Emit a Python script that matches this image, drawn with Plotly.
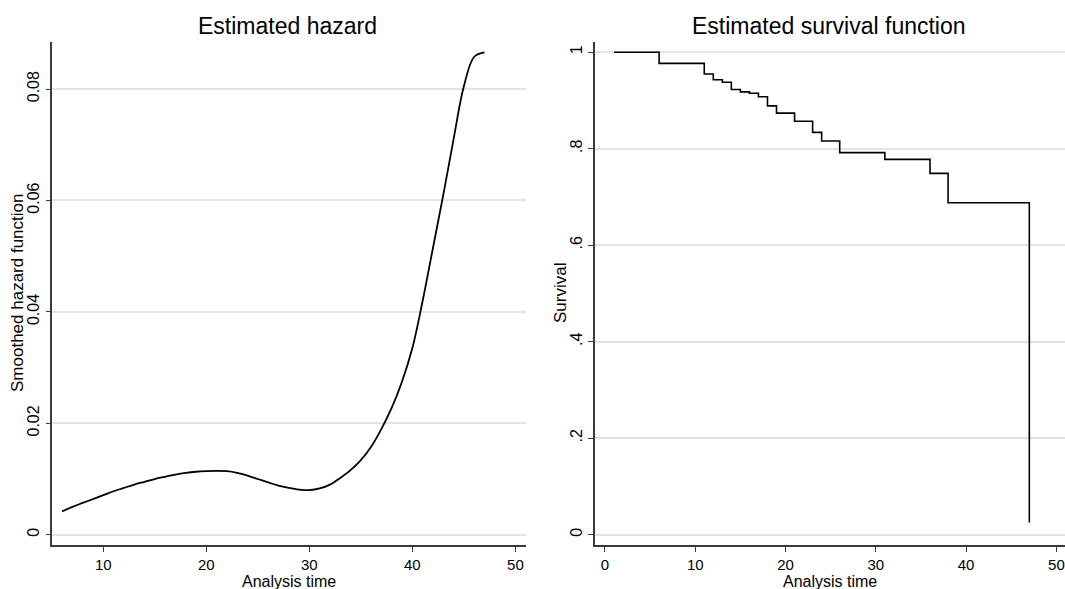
import plotly.graph_objects as go

# Smoothed hazard (left panel)
hazard_time = [6, 7, 8, 9, 10, 11, 12, 13, 14, 15, 16, 17, 18, 19, 20, 21, 22, 23, 24, 25, 26,
               27, 28, 29, 30, 31, 32, 33, 34, 35, 36, 37, 38, 39, 40, 41, 42, 43, 44, 45, 46, 47]
hazard_value = [0.0042, 0.0050, 0.0057, 0.0064, 0.0071, 0.0078, 0.0084, 0.0090, 0.0095, 0.0100,
                0.0104, 0.0108, 0.0111, 0.0113, 0.0114, 0.01145, 0.0114, 0.0111, 0.0106, 0.0100,
                0.0094, 0.0088, 0.0084, 0.0081, 0.0080, 0.0083, 0.0090, 0.0102, 0.0116, 0.0134,
                0.0158, 0.0190, 0.0228, 0.0275, 0.0335, 0.0420, 0.0515, 0.0610, 0.0710, 0.0805,
                0.0858, 0.0866]

# Kaplan-Meier survival (right panel)
surv_time = [1, 6, 11, 12, 13, 14, 15, 16, 17, 18, 19, 21, 23, 24, 26, 31, 36, 38, 47]
surv_value = [1.0, 0.977, 0.955, 0.943, 0.938, 0.923, 0.918, 0.915, 0.908, 0.889, 0.874, 0.857,
              0.834, 0.816, 0.792, 0.778, 0.749, 0.688, 0.025]

left_xticks = [10, 20, 30, 40, 50]
left_yticks = [0, 0.02, 0.04, 0.06, 0.08]
left_ytext = ["0", "0.02", "0.04", "0.06", "0.08"]
right_xticks = [0, 10, 20, 30, 40, 50]
right_yticks = [0, 0.2, 0.4, 0.6, 0.8, 1.0]
right_ytext = ["0", ".2", ".4", ".6", ".8", "1"]

W, H = 1065, 589
FONT = "Liberation Sans, Arial, sans-serif"

fig = go.Figure()
fig.add_trace(go.Scatter(x=hazard_time, y=hazard_value, mode="lines",
                         line=dict(color="black", width=1.8, shape="spline", smoothing=1.0),
                         xaxis="x", yaxis="y", showlegend=False))
fig.add_trace(go.Scatter(x=surv_time, y=surv_value, mode="lines",
                         line=dict(color="black", width=1.6, shape="hv"),
                         xaxis="x2", yaxis="y2", showlegend=False))

ydom = [1 - 545.3 / H, 1 - 41.7 / H]
common_axis = dict(showline=True, linecolor="#3a3a3a", linewidth=1.5, ticks="outside",
                   ticklen=5, tickwidth=1.3, tickcolor="#3a3a3a", zeroline=False,
                   automargin=False, ticklabeloverflow="allow")
xtickfont = dict(size=15, color="black", family=FONT)
ytickfont = dict(size=16, color="black", family=FONT)

fig.update_layout(
    width=W, height=H,
    margin=dict(l=0, r=0, t=0, b=0),
    paper_bgcolor="white", plot_bgcolor="white",
    font=dict(family=FONT, color="black"),
    xaxis=dict(domain=[52.3 / W, 525.7 / W], range=[5.05, 51.0], tickvals=left_xticks,
               showgrid=False, anchor="y", ticklabelstandoff=0, tickfont=xtickfont, **common_axis),
    yaxis=dict(domain=ydom, range=[-0.0019, 0.0885], tickvals=left_yticks, ticktext=left_ytext,
               tickangle=-90, showgrid=True, gridcolor="#e3e3e3", gridwidth=1.5, anchor="x",
               tickfont=ytickfont, **common_axis),
    xaxis2=dict(domain=[595 / W, 1.0], range=[-1.1, 50.95], tickvals=right_xticks,
                showgrid=False, anchor="y2", ticklabelstandoff=0, tickfont=xtickfont, **common_axis),
    yaxis2=dict(domain=ydom, range=[-0.0222, 1.022], tickvals=right_yticks, ticktext=right_ytext,
                tickangle=-90, showgrid=True, gridcolor="#e3e3e3", gridwidth=1.5, anchor="x2",
                tickfont=ytickfont, **common_axis),
)

ann = []
def add_text(text, px, py, size, angle=0):
    ann.append(dict(text=text, x=px / W, y=1 - py / H, xref="paper", yref="paper",
                    showarrow=False, textangle=angle, xanchor="center", yanchor="middle",
                    font=dict(size=size, color="black", family=FONT)))

add_text("Estimated hazard", 288, 26, 23)
add_text("Estimated survival function", 829, 26, 23)
add_text("Analysis time", 289, 581, 16)
add_text("Analysis time", 830, 581, 16)
add_text("Smoothed hazard function", 18, 293, 17, -90)
add_text("Survival", 561, 293, 17, -90)
fig.update_layout(annotations=ann)

fig.write_html("out.html", config={"displayModeBar": False},
               post_script="document.body.style.margin='0';document.body.style.overflow='hidden';")
